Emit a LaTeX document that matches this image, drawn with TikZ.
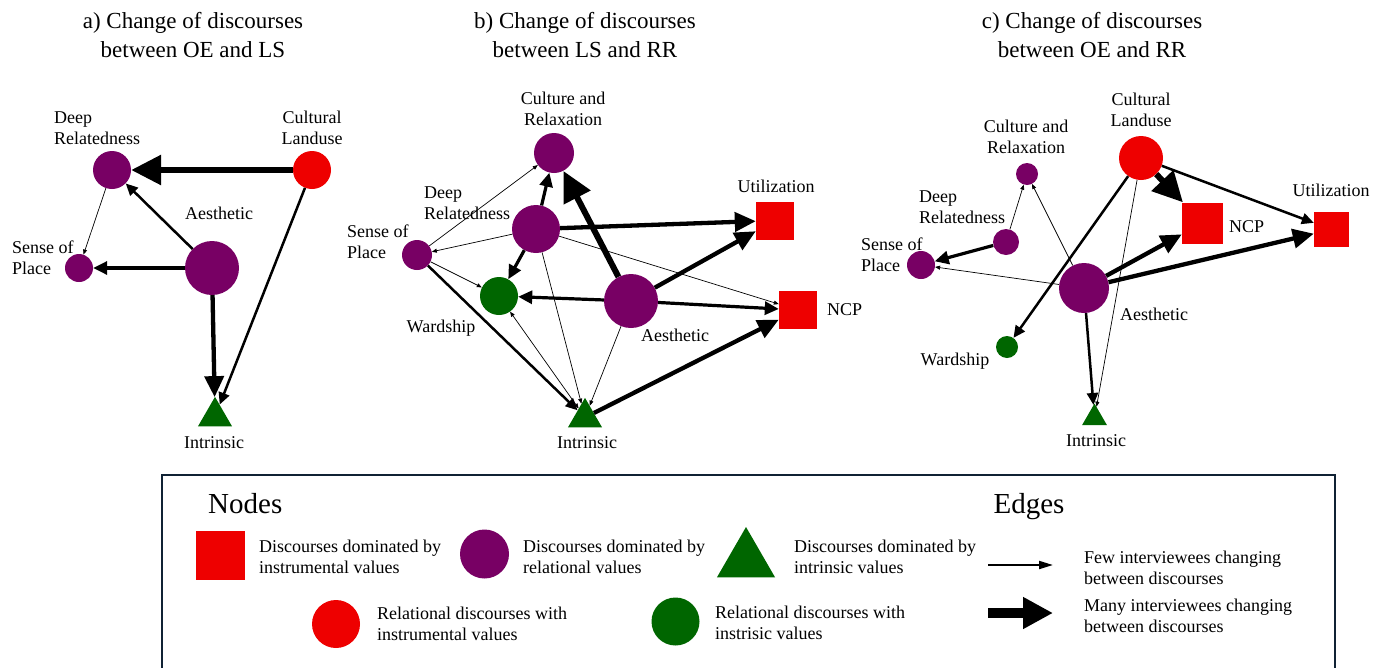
\documentclass[tikz,border=0pt]{standalone}
\usepackage{fontspec}
\setmainfont{Liberation Serif}
\usetikzlibrary{arrows.meta,shapes.geometric}
\definecolor{cpur}{RGB}{120,0,100}
\definecolor{cred}{RGB}{238,0,0}
\definecolor{cgrn}{RGB}{0,102,0}
\definecolor{cbox}{RGB}{16,34,52}
\begin{document}
\begin{tikzpicture}[x=1pt,y=-1pt,
  pcirc/.style={circle,fill=cpur,inner sep=0pt,minimum size=#1pt},
  rcirc/.style={circle,fill=cred,inner sep=0pt,minimum size=#1pt},
  gcirc/.style={circle,fill=cgrn,inner sep=0pt,minimum size=#1pt},
  rsq/.style={rectangle,fill=cred,inner sep=0pt,minimum size=#1pt},
  gtri/.style={regular polygon,regular polygon sides=3,fill=cgrn,inner sep=0pt,minimum size=#1pt},
  lbl/.style={inner sep=0pt,font=\fontsize{18}{21}\selectfont,align=center},
  lbll/.style={lbl,align=left,anchor=west},
  ttl/.style={inner sep=0pt,font=\fontsize{23}{29}\selectfont,align=center},
  hdr/.style={inner sep=0pt,font=\fontsize{29}{34}\selectfont},
  efew/.style={line width=0.7pt,-{Triangle[length=5pt,width=4pt]}},
  efewb/.style={line width=0.7pt,{Triangle[length=5pt,width=4pt]}-{Triangle[length=5pt,width=4pt]}},
  emid/.style={line width=2.5pt,-{Triangle[length=12pt,width=11pt]}},
  emidb/.style={line width=3.2pt,-{Triangle[length=14pt,width=13pt]}},
  ebig/.style={line width=4.3pt,-{Triangle[length=21pt,width=19pt]}},
  emax/.style={line width=6pt,-{Triangle[length=30pt,width=29pt]}}
]
\useasboundingbox (0,0) rectangle (1386,667);

% ---------- titles ----------
\node[ttl] (ta) at (193,36.7) {\strut a) Change of discourses\\\strut between OE and LS};
\node[ttl] (tb) at (585,36.7) {\strut b) Change of discourses\\\strut between LS and RR};
\node[ttl] (tc) at (1092,36.7) {\strut c) Change of discourses\\\strut between OE and RR};

% ---------- panel a ----------
\node[pcirc=38] (aDR) at (112,170) {};
\node[rcirc=38] (aCL) at (312,170) {};
\node[pcirc=54] (aAE) at (212,268) {};
\node[pcirc=28] (aSP) at (79,268) {};
\node[gtri=39.3] (aIN) at (215,416.5) {};
\node[lbll] (laDR) at (54,129.3) {\strut Deep\\\strut Relatedness};
\node[lbl] (laCL) at (312,129.3) {\strut Cultural\\\strut Landuse};
\node[lbl] (laAE) at (219,214.8) {\strut Aesthetic};
\node[lbll] (laSP) at (12,259.3) {\strut Sense of\\\strut Place};
\node[lbl] (laIN) at (214,443.8) {\strut Intrinsic};
\draw[emax] (aCL) -- (aDR);
\draw[emid] (aAE) -- (aDR);
\draw[emidb] (aAE) -- (aSP);
\draw[efew] (aDR) -- (aSP);
\draw[ebig] (aAE) -- (aIN);
\draw[emid] (aCL) -- (aIN);

% ---------- panel b ----------
\node[pcirc=40] (bCR) at (554,153) {};
\node[pcirc=48] (bDR) at (536,229) {};
\node[pcirc=30] (bSP) at (417,255) {};
\node[gcirc=38] (bWA) at (499,296) {};
\node[pcirc=54] (bAE) at (631,301) {};
\node[gtri=39.3] (bIN) at (585,417.5) {};
\node[rsq=38] (bUT) at (775,220.5) {};
\node[rsq=38] (bNC) at (798,310) {};
\node[lbl] (lbCR) at (563,110.3) {\strut Culture and\\\strut Relaxation};
\node[lbll] (lbDR) at (424,204.3) {\strut Deep\\\strut Relatedness};
\node[lbll] (lbSP) at (347,243.3) {\strut Sense of\\\strut Place};
\node[lbl] (lbWA) at (441,327.8) {\strut Wardship};
\node[lbl] (lbAE) at (675,336.8) {\strut Aesthetic};
\node[lbl] (lbIN) at (587,443.8) {\strut Intrinsic};
\node[lbl] (lbUT) at (776,187.8) {\strut Utilization};
\node[lbll] (lbNC) at (827,310.8) {\strut NCP};
\draw[emax] (bAE) -- (bCR);
\draw[emidb] (bDR) -- (bCR);
\draw[ebig] (bDR) -- (bUT);
\draw[emidb] (bDR) -- (bWA);
\draw[efew] (bDR) -- (bSP);
\draw[efew] (bDR) -- (bNC);
\draw[efew] (bDR) -- (bIN);
\draw[efew] (bSP) -- (bCR);
\draw[efew] (bSP) -- (bWA);
\draw[emid] (bSP) -- (bIN);
\draw[emidb] (bAE) -- (bWA);
\draw[ebig] (bAE) -- (bUT);
\draw[emidb] (bAE) -- (bNC);
\draw[efew] (bAE) -- (bIN);
\draw[efewb] (bWA) -- (bIN);
\draw[ebig] (bIN) -- (bNC);

% ---------- panel c ----------
\node[pcirc=22] (cCR) at (1027,174) {};
\node[pcirc=26] (cDR) at (1006,242) {};
\node[pcirc=28] (cSP) at (921,265) {};
\node[pcirc=50] (cAE) at (1084,288) {};
\node[gcirc=22] (cWA) at (1007,347) {};
\node[gtri=28.9] (cIN) at (1094.5,418) {};
\node[rcirc=44] (cCL) at (1141,158) {};
\node[rsq=41] (cNC) at (1202.5,223) {};
\node[rsq=35] (cUT) at (1331.5,229.5) {};
\node[lbl] (lcCR) at (1026,138.3) {\strut Culture and\\\strut Relaxation};
\node[lbll] (lcDR) at (919,208.3) {\strut Deep\\\strut Relatedness};
\node[lbll] (lcSP) at (861,256.3) {\strut Sense of\\\strut Place};
\node[lbl] (lcWA) at (955,360.8) {\strut Wardship};
\node[lbl] (lcIN) at (1096,441.8) {\strut Intrinsic};
\node[lbl] (lcAE) at (1154,315.8) {\strut Aesthetic};
\node[lbll] (lcNC) at (1229,227.8) {\strut NCP};
\node[lbl] (lcUT) at (1331,191.8) {\strut Utilization};
\node[lbl] (lcCL) at (1141,111.3) {\strut Cultural\\\strut Landuse};
\draw[emax] (cCL) -- (cNC);
\draw[emid] (cCL) -- (cUT);
\draw[emid] (cCL) -- (cWA);
\draw[efew] (cCL) -- (cIN);
\draw[ebig] (cAE) -- (cNC);
\draw[ebig] (cAE) -- (cUT);
\draw[emid] (cAE) -- (cIN);
\draw[efew] (cAE) -- (cSP);
\draw[efew] (cAE) -- (cCR);
\draw[emidb] (cDR) -- (cSP);
\draw[efew] (cDR) -- (cCR);

% ---------- legend ----------
\draw[cbox,line width=2.5pt] (162,670) -- (162,475) -- (1335,475) -- (1335,670);
\node[hdr,anchor=west] (hN) at (208,506.2) {\strut Nodes};
\node[hdr] (hE) at (1029,506.2) {\strut Edges};
\node[rsq=49] (kSq) at (220.5,555.5) {};
\node[pcirc=49] (kPc) at (484.5,554) {};
\node[gtri=67] (kTr) at (746,560.5) {};
\node[rcirc=48] (kRc) at (336,624) {};
\node[gcirc=48] (kGc) at (675.5,621.5) {};
\node[lbll] (t1) at (259,558.3) {\strut Discourses dominated by\\\strut instrumental values};
\node[lbll] (t2) at (523,558.3) {\strut Discourses dominated by\\\strut relational values};
\node[lbll] (t3) at (794,558.3) {\strut Discourses dominated by\\\strut intrinsic values};
\node[lbll] (t4) at (377,625.3) {\strut Relational discourses with\\\strut instrumental values};
\node[lbll] (t5) at (715,624.3) {\strut Relational discourses with\\\strut instrisic values};
\node[lbll] (t6) at (1084,569.3) {\strut Few interviewees changing\\\strut between discourses};
\node[lbll] (t7) at (1084,617.3) {\strut Many interviewees changing\\\strut between discourses};
\coordinate (k1s) at (988,565);
\coordinate (k1e) at (1053,565);
\coordinate (k2s) at (988,613);
\coordinate (k2e) at (1053,613);
\draw[line width=2pt,-{Triangle[length=14pt,width=8pt]}] (k1s) -- (k1e);
\draw[line width=10pt,-{Triangle[length=30pt,width=30pt]}] (k2s) -- (k2e);
\end{tikzpicture}
\end{document}
